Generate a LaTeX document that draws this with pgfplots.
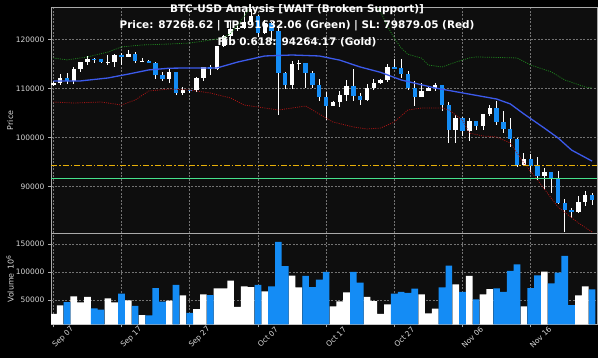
\documentclass[border=0pt]{standalone}
\usepackage{fontspec}
\setmainfont{DejaVu Sans}
\usepackage{pgfplots}
\pgfplotsset{compat=1.18}
\usepackage{pgfplotstable}
\definecolor{axbg}{RGB}{14,14,14}
\definecolor{dnblue}{RGB}{20,140,245}
\definecolor{smablue}{RGB}{60,90,235}
\definecolor{bbgreen}{RGB}{30,130,30}
\definecolor{bbred}{RGB}{165,20,20}
\definecolor{fibgold}{RGB}{232,176,8}
\definecolor{tpgreen}{RGB}{70,225,140}
\definecolor{gridc}{RGB}{115,115,115}
\definecolor{spine}{RGB}{170,170,170}
\definecolor{tickc}{RGB}{215,215,215}

% up candles (close >= open)
\pgfplotstableread{
i O H L C V
0 110700 111600 110500 111170 25000
1 111170 112900 110700 112070 40500
3 111550 114300 110950 113960 56500
4 113960 115500 113400 115500 45800
5 115500 116700 114800 116100 55400
8 115400 116800 114800 115440 53000
9 115440 117000 114400 116790 45800
11 116470 117900 116400 117140 49400
13 115700 116300 115600 115720 23200
17 112010 113900 111200 113330 48800
19 109050 110300 108700 109710 58300
21 109680 112400 109300 112120 33900
22 112120 114400 111600 114400 60100
24 114060 118600 113800 118650 70800
25 118650 121000 118400 120680 70800
26 120680 123900 119400 122270 84500
27 122270 122900 121800 122390 37500
28 122390 125600 122200 123530 74400
29 123530 126200 123100 124750 73200
31 121450 124100 121100 123350 65500
35 110640 115700 109800 114960 93500
36 114960 115900 113800 115270 72600
41 106470 107500 106400 107200 38700
42 107200 109400 106200 108670 47600
43 108670 111700 107500 110590 63700
46 107570 111000 107500 110070 55400
47 110070 112000 109700 111030 48200
48 111030 111900 110900 111640 25000
49 111640 115000 111300 114470 42300
54 108300 111100 108200 109560 60100
55 109560 110500 109400 110060 26200
56 110060 111200 109500 110640 34500
59 101590 104500 98900 103890 78000
61 101300 104000 99300 103370 92900
63 102280 104800 101500 104720 60100
64 104720 106600 104300 105980 69600
69 94400 96800 94200 95550 38700
72 92090 93700 89300 92950 100600
77 84650 88100 84600 86830 58300
78 86830 89100 85900 88270 74400
}\upC

% down candles (close < open)
\pgfplotstableread{
i O H L C V
2 112070 113200 110900 111550 46400
6 116100 116300 115300 115950 35100
7 115950 116100 115200 115400 32700
10 116790 117300 114800 116470 61300
12 117140 117500 115200 115700 39300
14 115720 115900 115200 115310 22600
15 115310 115400 112000 112750 71400
16 112750 113300 111500 112010 47000
18 113330 113400 108700 109050 76800
20 109710 109750 109100 109680 26800
23 114400 114800 112700 114060 58900
30 124750 125100 120600 121450 76800
32 123350 123700 119800 121700 74400
33 121700 122500 104600 113210 154000
34 113210 113400 109800 110640 110700
37 115270 115300 110000 113120 92900
38 113120 113600 110200 110760 73200
39 110760 111900 107500 108190 86300
40 108190 109200 103600 106470 100000
44 110590 114000 107500 108480 100000
45 108480 109100 106700 107570 81000
50 114470 116100 113900 114120 61300
51 114120 116000 112200 112960 64300
52 112960 113600 109600 110060 62500
53 110060 111600 106400 108300 70200
57 110640 110750 105300 106550 72600
58 106550 107300 98900 101590 111300
60 103890 104200 100300 101300 64300
62 103370 103400 101500 102280 51200
65 105980 107500 102500 103050 70800
66 103050 105300 100800 101650 64300
67 101650 104000 98100 99700 101800
68 99700 99900 94000 94400 113700
70 95550 96600 93000 94180 71400
71 94180 96000 91300 92090 94000
73 92950 93000 88600 91560 79800
74 91560 93100 86400 86640 98800
75 86640 87400 80700 85090 128600
76 85090 85600 83500 84650 41000
79 88270 88600 86200 87270 69000
}\dnC

% 20-day moving average (blue)
\pgfplotstableread{
i y
0 111550
4 111550
8 112150
11 112950
14 113800
17 114150
20 114200
24 114200
27 115400
31 116650
35 116850
39 116650
42 115800
45 114400
48 113300
51 111750
56 110100
61 108850
65 107850
67 106850
69 104800
72 101900
74 99900
76 97400
79 95150
}\smatab

% upper band (green)
\pgfplotstableread{
i y
0 116250
2 115850
5 116450
8 117450
10 118500
13 118900
17 119100
20 119300
23 119900
25 120350
26 121300
27 122900
28 124800
29 126800
30 128500
33 131000
38 131500
43 130500
46 128500
47 127200
48 125600
49 122700
50 120300
51 118300
52 117000
54 116200
55 114800
57 114400
59 115400
61 116250
62 116450
68 116250
70 114800
73 113400
75 111750
78 110300
79 110100
}\bbuptab

% lower band (red)
\pgfplotstableread{
i y
0 107240
3 107030
7 107240
10 106620
12 107650
14 109490
17 109900
20 109690
23 109080
26 108060
28 106620
31 106010
33 105600
37 106420
38 105600
41 103150
44 102130
46 101720
48 101920
50 103150
52 105600
54 106010
57 106010
58 105600
60 103560
61 100900
63 100290
65 100080
67 98860
69 94770
71 91290
74 85770
77 82500
79 80650
}\bblotab

\pgfplotsset{
  panel/.style={
    scale only axis, width=546bp,
    xmin=-0.34, xmax=79.72,
    axis background/.style={fill=axbg},
    axis line style={spine, line width=0.8bp},
    tick align=outside, major tick length=3bp,
    tick style={spine, line width=0.6bp},
    xtick pos=bottom, ytick pos=left,
    xmajorgrids, ymajorgrids,
    major grid style={gridc, dash pattern=on 2bp off 1.5bp, line width=0.45bp},
    tick label style={font=\fontsize{7.5}{9}\selectfont, text=tickc},
    scaled y ticks=false,
    yticklabel style={/pgf/number format/fixed, /pgf/number format/1000 sep={}, /pgf/number format/assume math mode=true},
    label style={font=\fontsize{8}{9}\selectfont, text=tickc},
    ylabel style={at={(axis description cs:-0.075,0.5)}, anchor=center},
    xtick={0,10,20,30,40,50,60,70},
  },
  wick/.style={forget plot, draw=none, mark=none,
    error bars/.cd, y dir=both, y explicit, error mark=none,
    error bar style={draw=white, line width=0.8bp}},
  body/.style={forget plot, draw=none, mark=none,
    error bars/.cd, y dir=both, y explicit, error mark=none,
    error bar style={draw=#1, line width=4.4bp, line cap=butt}},
}

\begin{document}
\begin{tikzpicture}
\path[fill=black, use as bounding box] (0bp,0bp) rectangle (598bp,358bp);

% price panel
\begin{axis}[panel, at={(51bp,124.7bp)}, anchor=south west, height=226bp,
  ymin=80389, ymax=126606, ytick={90000,100000,110000,120000},
  xmajorticks=false, ylabel={Price}]
  \addplot[wick] table[x=i, y expr=(\thisrow{H}+\thisrow{L})/2, y error expr=(\thisrow{H}-\thisrow{L})/2] {\upC};
  \addplot[wick] table[x=i, y expr=(\thisrow{H}+\thisrow{L})/2, y error expr=(\thisrow{H}-\thisrow{L})/2] {\dnC};
  \addplot[body=white] table[x=i, y expr=(\thisrow{O}+\thisrow{C})/2, y error expr=(\thisrow{C}-\thisrow{O})/2] {\upC};
  \addplot[body=dnblue] table[x=i, y expr=(\thisrow{O}+\thisrow{C})/2, y error expr=(\thisrow{O}-\thisrow{C})/2] {\dnC};
  \addplot[smablue, line width=1.3bp, mark=none] table[x=i, y=y] {\smatab};
  \addplot[bbgreen, line width=0.8bp, dash pattern=on 1bp off 1.2bp, mark=none] table[x=i, y=y] {\bbuptab};
  \addplot[bbred, line width=0.8bp, dash pattern=on 1bp off 1.2bp, mark=none] table[x=i, y=y] {\bblotab};
  \addplot[draw=fibgold, line width=1.7bp, dash pattern=on 6bp off 2bp on 1.5bp off 2bp, mark=none] coordinates {(-0.34,94264.17) (79.72,94264.17)};
  \addplot[draw=tpgreen, line width=1.6bp, mark=none] coordinates {(-0.34,91632.06) (79.72,91632.06)};
  \addplot[draw=red, line width=1.5bp, mark=none] coordinates {(-0.34,79879.05) (79.72,79879.05)};
\end{axis}

% volume panel
\begin{axis}[panel, at={(51bp,33.7bp)}, anchor=south west, height=91bp,
  ymin=6600, ymax=169100, ytick={50000,100000,150000},
  xticklabels={Sep 07,Sep 17,Sep 27,Oct 07,Oct 17,Oct 27,Nov 06,Nov 16},
  xticklabel style={rotate=45, anchor=center, yshift=-14bp},
  ylabel={Volume\enspace 10\textsuperscript{6}}]
  \addplot[ybar, bar width=0.98, bar shift=0pt, fill=white, draw=none] table[x=i, y=V] {\upC};
  \addplot[ybar, bar width=0.98, bar shift=0pt, fill=dnblue, draw=none] table[x=i, y=V] {\dnC};
\end{axis}

% title
\begin{scope}[every node/.style={text=white, font=\bfseries\fontsize{10.5}{12}\selectfont, inner sep=0pt}]
\node at (297bp,348bp) {BTC-USD Analysis [WAIT (Broken Support)]};
\node at (297bp,332bp) {Price: 87268.62 | TP: 91632.06 (Green) | SL: 79879.05 (Red)};
\node at (297bp,316bp) {Fib 0.618: 94264.17 (Gold)};
\end{scope}
\end{tikzpicture}
\end{document}
